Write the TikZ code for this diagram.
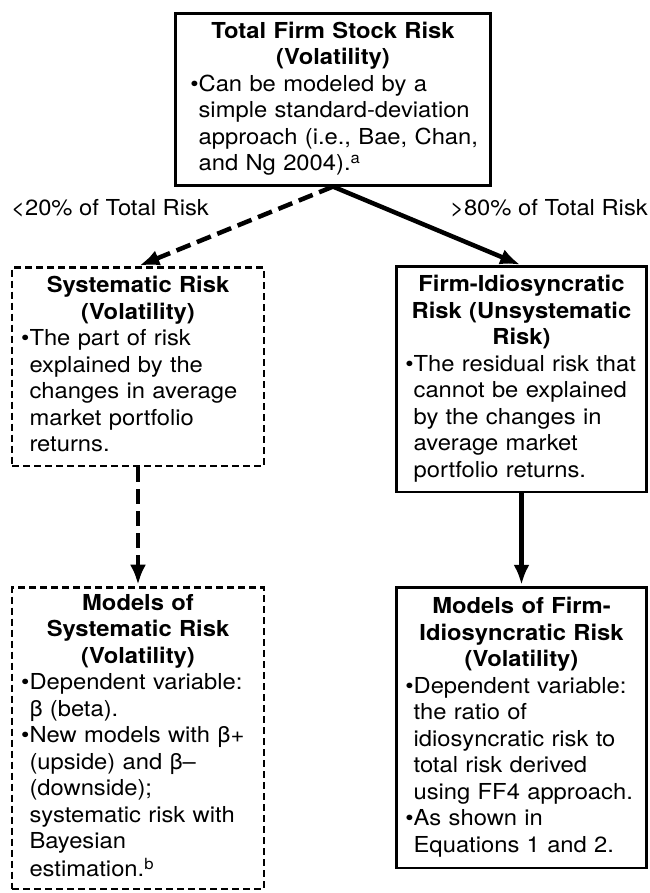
\documentclass[tikz,border=0pt]{standalone}
\usepackage{fontspec}
\setmainfont{TeX Gyre Heros}[FakeStretch=1.08]
\usetikzlibrary{arrows.meta}

\newcommand{\hd}[1]{{\centering\bfseries\strut#1\par}}
\newcommand{\bl}[1]{\par\noindent\mbox{\strut\textbullet#1}}
\newcommand{\cl}[1]{\par\noindent\mbox{\strut\phantom{\textbullet}#1}}

\begin{document}
\begin{tikzpicture}[x=1pt, y=-1pt,
        riskbox/.style={draw, line width=2.6pt, text width=232.4pt, inner xsep=9pt, inner ysep=4pt,
                font=\fontsize{22}{26.5}\selectfont},
        dashbox/.style={riskbox, line width=2.4pt, text width=233.6pt, dash pattern=on 7pt off 4pt},
        lbl/.style={inner sep=0pt, font=\fontsize{22}{26.5}\selectfont},
        link/.style={line width=4.5pt, shorten >=1.5pt, -{Latex[length=20pt, width=16pt]}},
        dashlink/.style={link, dash pattern=on 15pt off 7pt}]
    \useasboundingbox (0,0) rectangle (649,893);

    \node[riskbox, text width=285.4pt, inner xsep=15pt, minimum height=171.7pt, anchor=north] (total) at (333,12.3) {
        \hd{Total Firm Stock Risk\\(Volatility)}
        \bl{Can be modeled by a}
        \cl{simple standard-deviation}
        \cl{approach (i.e., Bae, Chan,}
        \cl{and Ng 2004).\textsuperscript{a}}};

    \node[dashbox, minimum height=198.6pt, anchor=north] (sysrisk) at (138,266.2) {
        \hd{Systematic Risk\\(Volatility)}
        \bl{The part of risk}
        \cl{explained by the}
        \cl{changes in average}
        \cl{market portfolio}
        \cl{returns.}};

    \node[riskbox, minimum height=225.4pt, anchor=north] (idiorisk) at (521.5,265.3) {
        \hd{Firm-Idiosyncratic\\Risk (Unsystematic\\Risk)}
        \bl{The residual risk that}
        \cl{cannot be explained}
        \cl{by the changes in}
        \cl{average market}
        \cl{portfolio returns.}};

    \node[dashbox, minimum height=301.6pt, anchor=north] (sysmodels) at (138,586.2) {
        \hd{Models of\\Systematic Risk\\(Volatility)}
        \bl{Dependent variable:}
        \cl{β (beta).}
        \bl{New models with β+}
        \cl{(upside) and β–}
        \cl{(downside);}
        \cl{systematic risk with}
        \cl{Bayesian}
        \cl{estimation.\textsuperscript{b}}};

    \node[riskbox, minimum height=280.4pt, anchor=north] (idiomodels) at (521.5,586.3) {
        \hd{Models of Firm-\\Idiosyncratic Risk\\(Volatility)}
        \bl{Dependent variable:}
        \cl{the ratio of}
        \cl{idiosyncratic risk to}
        \cl{total risk derived}
        \cl{using FF4 approach.}
        \bl{As shown in}
        \cl{Equations 1 and 2.}};

    \node[lbl, anchor=base west] (lowshare) at (11,215) {<20\% of Total Risk};
    \node[lbl, anchor=base east] (highshare) at (648,215) {>80\% of Total Risk};

    \draw[dashlink] (total.south) -- (sysrisk.north);
    \draw[link] (total.south) -- (idiorisk.north);
    \draw[dashlink] (sysrisk.south) -- (sysmodels.north);
    \draw[link] (idiorisk.south) -- (idiomodels.north);
\end{tikzpicture}
\end{document}
